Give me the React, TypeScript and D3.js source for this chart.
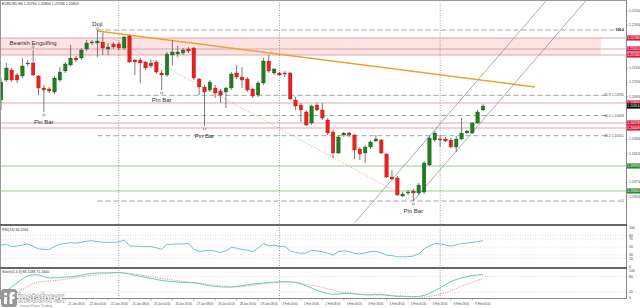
import React from 'react';
import * as d3 from 'd3';

// ---- price data (EURUSD H4), bar index 0..90 ----
const opens = [1.20900,1.21180,1.21320,1.21250,1.21236,1.21404,1.21418,1.21236,1.21068,1.21054,1.21012,1.21180,1.21306,1.21390,1.21488,1.21488,1.21614,1.21698,1.21698,1.21712,1.21614,1.21684,1.21684,1.21628,1.21796,1.21460,1.21460,1.21432,1.21418,1.21432,1.21278,1.21250,1.21530,1.21544,1.21558,1.21614,1.21628,1.21194,1.21082,1.21040,1.21068,1.21026,1.21012,1.21068,1.21278,1.21222,1.21194,1.21054,1.20970,1.21138,1.21446,1.21278,1.21278,1.21278,1.21278,1.20900,1.20830,1.20732,1.20578,1.20830,1.20760,1.20620,1.20452,1.20158,1.20410,1.20438,1.20410,1.20214,1.20158,1.20242,1.20326,1.20340,1.20144,1.19822,1.19808,1.19556,1.19598,1.19626,1.19598,1.19612,1.19990,1.20340,1.20354,1.20354,1.20340,1.20242,1.20354,1.20438,1.20438,1.20578,1.20760];
const highs = [1.21208,1.21418,1.21348,1.21278,1.21488,1.21460,1.21600,1.21250,1.21110,1.21082,1.21236,1.21362,1.21432,1.21670,1.21516,1.21628,1.21740,1.21740,1.21880,1.21838,1.21698,1.21712,1.21712,1.21796,1.21810,1.21474,1.21488,1.21446,1.21460,1.21460,1.21320,1.21572,1.21740,1.21656,1.21628,1.21642,1.21642,1.21208,1.21110,1.21180,1.21110,1.21054,1.21082,1.21292,1.21390,1.21362,1.21222,1.21068,1.21166,1.21488,1.21530,1.21348,1.21292,1.21306,1.21292,1.20942,1.20858,1.20760,1.20830,1.20858,1.20858,1.20648,1.20480,1.20410,1.20452,1.20452,1.20424,1.20242,1.20270,1.20340,1.20410,1.20354,1.20158,1.19920,1.19836,1.19612,1.19640,1.19654,1.19738,1.20046,1.20396,1.20466,1.20410,1.20382,1.20368,1.20396,1.20648,1.20480,1.20592,1.20760,1.20844];
const lows = [1.20760,1.21152,1.21152,1.21138,1.21208,1.21376,1.21236,1.20970,1.20732,1.20998,1.20984,1.21152,1.21278,1.21376,1.21432,1.21460,1.21586,1.21670,1.21502,1.21530,1.21530,1.21614,1.21600,1.21600,1.21418,1.21250,1.21138,1.21320,1.21348,1.21264,1.21040,1.21222,1.21390,1.21502,1.21530,1.21558,1.21180,1.20970,1.20536,1.21012,1.20928,1.20858,1.20788,1.21040,1.21194,1.21068,1.21012,1.20928,1.20942,1.21110,1.21278,1.21250,1.21236,1.21222,1.20900,1.20760,1.20592,1.20536,1.20550,1.20746,1.20620,1.20410,1.20088,1.20144,1.20382,1.20382,1.20074,1.20060,1.20018,1.20214,1.20312,1.20144,1.19808,1.19780,1.19556,1.19542,1.19570,1.19486,1.19570,1.19584,1.19976,1.20312,1.20242,1.20312,1.20228,1.20172,1.20340,1.20424,1.20424,1.20564,1.20746];
const closes = [1.21152,1.21348,1.21180,1.21180,1.21376,1.21418,1.21250,1.21068,1.21040,1.21026,1.21208,1.21292,1.21404,1.21488,1.21460,1.21600,1.21698,1.21712,1.21726,1.21628,1.21642,1.21642,1.21628,1.21782,1.21432,1.21432,1.21418,1.21348,1.21376,1.21292,1.21250,1.21544,1.21572,1.21572,1.21600,1.21586,1.21208,1.21082,1.21012,1.21152,1.20998,1.20970,1.21068,1.21264,1.21222,1.21180,1.21040,1.20956,1.21138,1.21446,1.21306,1.21334,1.21250,1.21264,1.20914,1.20816,1.20760,1.20550,1.20816,1.20760,1.20648,1.20438,1.20158,1.20382,1.20438,1.20410,1.20200,1.20144,1.20242,1.20312,1.20354,1.20158,1.19822,1.19794,1.19570,1.19584,1.19612,1.19598,1.19710,1.20018,1.20368,1.20438,1.20340,1.20326,1.20242,1.20354,1.20438,1.20466,1.20578,1.20732,1.20816];

const rsiValues = [55,57,51,53,55,58,52,45,44,44,51,57,59,61,60,62,65,66,64,62,62,62,63,68,53,52,52,51,51,48,44,57,57,58,58,59,44,39,40,42,39,36,40,49,47,44,42,38,47,59,53,55,51,52,40,36,34,35,42,40,38,34,29,38,40,38,34,32,35,38,39,35,29,28,25,25,25,27,32,45,53,59,58,55,52,55,59,60,62,64,66.2264];
const stochMain = [15,25,40,55,70,82,86,85,78,74,74,75,77,78,80,84,88,91,93,93,93,94,94,92,88,84,80,76,72,68,64,62,60,58,56,56,55,53,48,44,42,40,39,39,42,45,48,51,53,55,57,58,59,60,59,56,51,44,36,27,20,15,12,13,15,16,14,12,10,10,11,12,9,6,4,4,3,3,4,8,16,26,36,49,60,68,74,79,83,85,86.1188];
const stochSignal = [0,2,8,18,30,42,52,58,61,62,64,66,69,72,75,78,81,84,87,89,91,93,94,93,91,88,85,82,79,75,72,69,66,63,61,59,57,55,52,49,47,45,43,41,40,41,43,46,49,52,54,56,58,59,59,58,53,49,46,43,38,33,28,23,19,16,14,12,11,10,10,9,9,8,7,6,5,3,2,1,4,8,12,17,26,33,43,51,58,65,71.24];

// time labels visible to the right of the watermark
const labelBars = [12,16,20,24,28,32,36,40,44,48,52,56,60,64,68,72,76,80,84,88];
const labelTexts = ['21 Jan 08:00','22 Jan 00:00','22 Jan 16:00','25 Jan 08:00','26 Jan 00:00','26 Jan 16:00','27 Jan 08:00','28 Jan 00:00','28 Jan 16:00','29 Jan 08:00','1 Feb 00:00','1 Feb 16:00','2 Feb 08:00','3 Feb 00:00','3 Feb 16:00','4 Feb 08:00','5 Feb 00:00','5 Feb 16:00','8 Feb 08:00','9 Feb 00:00'];
const weekBars = [22, 52, 82];
const priceTicks = [1.2215,1.2195,1.2175,1.2155,1.2135,1.2115,1.2095,1.2075,1.2055,1.2035,1.2015,1.1995,1.1975,1.1955];

const zoneLevels = [1.21768, 1.21614, 1.21530];
const redLevels = [1.20858, 1.20578, 1.20508];
const greenLevels = [1.19976, 1.19626];
const fibLevels = [0, 38.2, 50, 61.8, 100];
const fibHighBar = 18;
const fibLowBar = 77;

const patternBars = [6, 18, 8, 30, 38, 77];
const patternNames = ['Bearish Engulfing', 'Doji', 'Pin Bar', 'Pin Bar', 'Pin Bar', 'Pin Bar'];
const patternAbove = [true, true, false, false, false, false];

const trendBars = [18, 99.7];
const trendPrices = [1.21866, 1.21082];
const channelUpperBars = [66, 90];
const channelUpperPrices = [1.19176, 1.21264];
const channelLowerBars = [77, 90];
const channelLowerPrices = [1.19489, 1.20620];

const rsiLevels = [80, 70, 50, 30, 20];
const rsiAxis = [100, 80, 70, 50, 30, 20, 0];
const stochLevels = [80, 20];
const stochAxis = [100, 80, 20, 0];

const FONT = 'Liberation Sans, Arial, sans-serif';

export default function App() {
  const W = 640, H = 308;
  const axisX = 626;
  const x = d3.scaleLinear().domain([0, 90]).range([1, 483]);
  const y = d3.scaleLinear().domain([1.19486, 1.223]).range([201, 0]);
  const yR = d3.scaleLinear().domain([0, 100]).range([266.5, 227.5]);
  const yS = d3.scaleLinear().domain([0, 100]).range([297.5, 271]);
  const bars = d3.range(closes.length);
  const last = closes.length - 1;

  const rsiLine = d3.line<number>().x(i => x(i)).y(i => yR(rsiValues[i]))(bars) || '';
  const stMain = d3.line<number>().x(i => x(i)).y(i => yS(stochMain[i]))(bars) || '';
  const stSig = d3.line<number>().x(i => x(i)).y(i => yS(stochSignal[i]))(bars) || '';

  const ray = (b: number[], p: number[], toBar: number) => {
    const slope = (p[1] - p[0]) / (b[1] - b[0]);
    return { x1: x(b[0]), y1: y(p[0]), x2: x(toBar), y2: y(p[0] + slope * (toBar - b[0])) };
  };
  const up = ray(channelUpperBars, channelUpperPrices, 130);
  const lo = ray(channelLowerBars, channelLowerPrices, 130);

  const fibHi = highs[fibHighBar];
  const fibLo = lows[fibLowBar];

  const tagPrices = zoneLevels.concat(redLevels, greenLevels, [closes[last]]);
  const visibleTicks = priceTicks.filter(p => tagPrices.every(t => Math.abs(y(t) - y(p)) > 5.3));

  const tag = (p: number, fill: string, key: string) => (
    <g key={key}>
      <rect x={627} y={y(p) - 2.6} width={13} height={5.2} fill={fill} />
      <text x={633.5} y={y(p) + 1.3} fontSize={3.4} fill="#fff" textAnchor="middle" fontFamily={FONT}>{p.toFixed(5)}</text>
    </g>
  );

  return (
    <div style={{ position: 'absolute', left: 0, top: 0, width: W, height: H, background: '#fff' }}>
      <svg width={W} height={H} viewBox={`0 0 ${W} ${H}`} style={{ display: 'block' }}>
        <defs>
          <clipPath id="mainClip"><rect x={0} y={0} width={axisX} height={224.5} /></clipPath>
          <clipPath id="rsiClip"><rect x={0} y={226} width={axisX} height={41} /></clipPath>
          <clipPath id="stClip"><rect x={0} y={269} width={axisX} height={29} /></clipPath>
        </defs>
        <rect x={0} y={0} width={W} height={H} fill="#fff" />

        {/* resistance zone */}
        <rect x={0} y={y(zoneLevels[0])} width={x(112)} height={y(zoneLevels[2]) - y(zoneLevels[0])} fill="#fde3e3" />
        {zoneLevels.concat(redLevels).map((p, i) => (
          <line key={'rl' + i} x1={0} x2={axisX} y1={y(p)} y2={y(p)} stroke="#d9909c" strokeWidth={0.8} />
        ))}
        {greenLevels.map((p, i) => (
          <line key={'gl' + i} x1={0} x2={axisX} y1={y(p)} y2={y(p)} stroke="#7cbf7c" strokeWidth={0.8} />
        ))}

        {/* week separators */}
        {weekBars.map(b => (
          <line key={'wk' + b} x1={x(b)} x2={x(b)} y1={0} y2={298} stroke="#777" strokeWidth={0.7} strokeDasharray="1,1.5" />
        ))}

        {/* fibonacci */}
        <g clipPath="url(#mainClip)">
          <line x1={x(fibHighBar)} y1={y(fibHi)} x2={x(fibLowBar)} y2={y(fibLo)} stroke="#e3a99a" strokeWidth={0.8} strokeDasharray="1.5,1.5" />
          {fibLevels.map(l => {
            const p = fibLo + (fibHi - fibLo) * l / 100;
            const lbl = l === 100 ? '100.0' : l === 0 ? '0.0' : `${l.toFixed(1)} ${p.toFixed(5)}`;
            const lw = l === 100 ? 7 : l === 0 ? 4 : 15;
            return (
              <g key={'fib' + l}>
                <line x1={x(fibHighBar)} x2={623 - lw} y1={y(p)} y2={y(p)} stroke="#9a9a9a" strokeWidth={0.9} strokeDasharray="5,3" />
                <text x={624} y={y(p) + 1} fontSize={3.4} textAnchor="end" fill={l === 100 ? '#000' : '#555'} fontWeight={l === 100 ? 'bold' : 'normal'} fontFamily={FONT}>{lbl}</text>
              </g>
            );
          })}
          {/* trend line */}
          <line x1={x(trendBars[0])} y1={y(trendPrices[0])} x2={x(trendBars[1])} y2={y(trendPrices[1])} stroke="#f0a030" strokeWidth={1.4} />
          {/* channel */}
          <line {...up} stroke="#8a8a8a" strokeWidth={0.7} />
          <line {...lo} stroke="#8a8a8a" strokeWidth={0.7} />

          {/* candles */}
          {bars.map(i => {
            const o = opens[i], c = closes[i];
            const bull = c >= o;
            const top = y(Math.max(o, c));
            const h = Math.max(0.8, Math.abs(y(o) - y(c)));
            return (
              <g key={'c' + i}>
                <line x1={x(i)} x2={x(i)} y1={y(highs[i])} y2={y(lows[i])} stroke="#5a5a5a" strokeWidth={0.8} />
                <rect x={x(i) - 1.8} y={top} width={3.6} height={h} fill={bull ? '#1f7d1f' : '#e8231d'} stroke={bull ? '#185e18' : '#b51a16'} strokeWidth={0.3} />
              </g>
            );
          })}

          {/* pattern annotations */}
          {patternBars.map((b, k) => {
            const above = patternAbove[k];
            const my = above ? y(highs[b]) - (k === 1 ? 1.5 : 3) : y(lows[b]) + 3;
            const ty = above ? my - 2.2 : my + 9;
            return (
              <g key={'pt' + k}>
                <circle cx={x(b)} cy={my} r={1.2} fill="none" stroke="#666" strokeWidth={0.5} />
                <text x={x(b)} y={ty} fontSize={6} textAnchor="middle" fill="#333" fontFamily={FONT}>{patternNames[k]}</text>
              </g>
            );
          })}
        </g>

        {/* title */}
        <text x={2} y={5} fontSize={3.6} fill="#333" fontFamily={FONT}>
          {`EURUSD,H4  ${opens[last].toFixed(5)} ${highs[last].toFixed(5)} ${lows[last].toFixed(5)} ${closes[last].toFixed(5)}`}
        </text>

        {/* RSI panel */}
        {rsiLevels.map(l => (
          <line key={'rlv' + l} x1={0} x2={axisX} y1={yR(l)} y2={yR(l)} stroke="#c8c8c8" strokeWidth={0.6} strokeDasharray="1,1.5" />
        ))}
        <path d={rsiLine} fill="none" stroke="#79bcd6" strokeWidth={1} clipPath="url(#rsiClip)" />
        <text x={2} y={230.5} fontSize={3.6} fill="#333" fontFamily={FONT}>{`RSI(14) ${rsiValues[last].toFixed(4)}`}</text>
        {rsiAxis.map(v => (
          <text key={'ra' + v} x={629} y={yR(v) + 1.2} fontSize={3.4} fill="#444" fontFamily={FONT}>{v}</text>
        ))}

        {/* Stochastic panel */}
        {stochLevels.map(l => (
          <line key={'slv' + l} x1={0} x2={axisX} y1={yS(l)} y2={yS(l)} stroke="#c8c8c8" strokeWidth={0.6} strokeDasharray="1,1.5" />
        ))}
        <g clipPath="url(#stClip)">
          <path d={stSig} fill="none" stroke="#e07a6e" strokeWidth={0.8} strokeDasharray="1.2,1.2" />
          <path d={stMain} fill="none" stroke="#6fc7bf" strokeWidth={1} />
        </g>
        <text x={2} y={273} fontSize={3.6} fill="#333" fontFamily={FONT}>{`Stoch(5,3,3) ${stochMain[last].toFixed(4)} ${stochSignal[last].toFixed(4)}`}</text>
        {stochAxis.map(v => (
          <text key={'sa' + v} x={629} y={yS(v) + 1.2} fontSize={3.4} fill="#444" fontFamily={FONT}>{v}</text>
        ))}

        {/* frame */}
        <line x1={0} x2={axisX} y1={0.5} y2={0.5} stroke="#999" strokeWidth={1} />
        <line x1={0.5} x2={0.5} y1={0} y2={298} stroke="#999" strokeWidth={1} />
        <line x1={axisX + 0.5} x2={axisX + 0.5} y1={0} y2={298.5} stroke="#888" strokeWidth={1} />
        <line x1={0} x2={axisX + 1} y1={225} y2={225} stroke="#666" strokeWidth={2} />
        <line x1={0} x2={axisX + 1} y1={268} y2={268} stroke="#666" strokeWidth={2} />
        <line x1={0} x2={axisX + 1} y1={298.5} y2={298.5} stroke="#888" strokeWidth={1} />

        {/* price axis */}
        {visibleTicks.map(p => (
          <g key={'pt' + p}>
            <line x1={axisX} x2={axisX + 2} y1={y(p)} y2={y(p)} stroke="#888" strokeWidth={0.6} />
            <text x={629} y={y(p) + 1.2} fontSize={3.4} fill="#444" fontFamily={FONT}>{p.toFixed(5)}</text>
          </g>
        ))}
        {zoneLevels.map((p, i) => tag(p, '#d81c3f', 'tz' + i))}
        {redLevels.map((p, i) => tag(p, '#d81c3f', 'tr' + i))}
        {tag(closes[last], '#000', 'cur')}
        {greenLevels.map((p, i) => tag(p, '#2f8a2f', 'tg' + i))}

        {/* time axis */}
        {labelBars.map((b, k) => (
          <g key={'tl' + b}>
            <line x1={x(b)} x2={x(b)} y1={298.5} y2={300.5} stroke="#888" strokeWidth={0.6} />
            <text x={x(b) + 3} y={304.5} fontSize={3.2} fill="#444" fontFamily={FONT} textLength={labelTexts[k].length > 11 ? 16.5 : 15} lengthAdjust="spacingAndGlyphs">{labelTexts[k]}</text>
          </g>
        ))}

        {/* watermark logo */}
        <g>
          <rect x={1} y={289} width={16} height={18} rx={3} fill="#8d8d8d" opacity={0.9} />
          <circle cx={5.6} cy={294} r={1.6} fill="#fff" />
          <rect x={4.2} y={297} width={2.8} height={7} fill="#fff" />
          <path d="M9.6 304 V295 Q9.6 292 12.6 292 H14.6 V294.5 H13.1 Q12.4 294.5 12.4 295.5 V296.5 H14.6 V299 H12.4 V304 Z" fill="#fff" />
          <text transform="translate(18,301.5) scale(0.74,1)" x={0} y={0} fontSize={13} fontWeight="bold" fill="#f2f2f2" stroke="#8a8a8a" strokeWidth={0.9} paintOrder="stroke" fontFamily={FONT}>instaforex</text>
          <text x={20} y={306.5} fontSize={3.4} fill="#8a8a8a" fontFamily={FONT}>Instant Forex Trading</text>
        </g>
      </svg>
    </div>
  );
}
